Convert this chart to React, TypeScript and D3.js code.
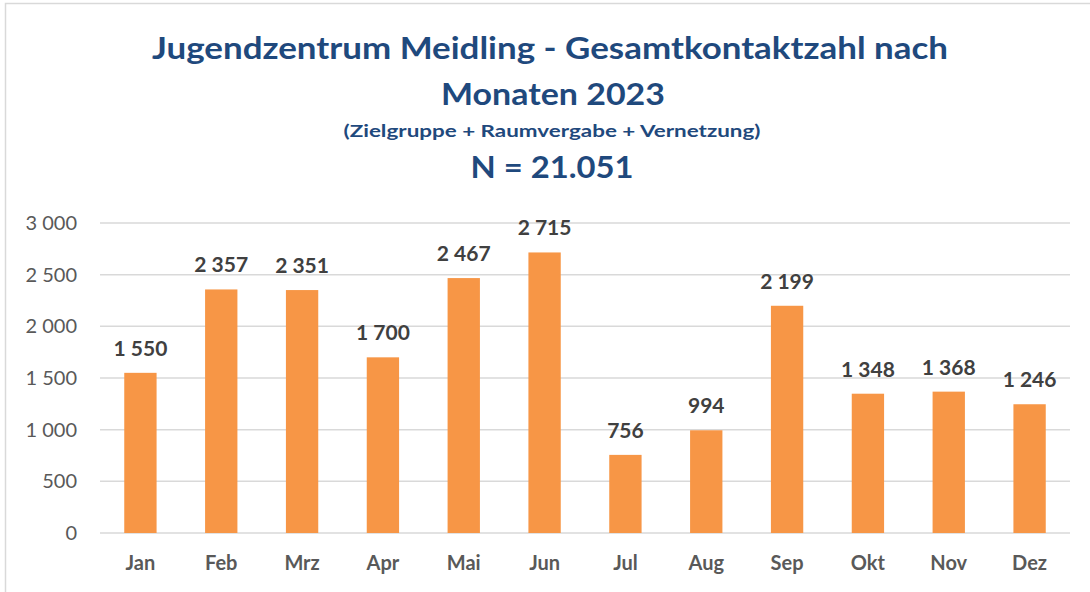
import React from "react";
import * as d3 from "d3";

const months = ["Jan", "Feb", "Mrz", "Apr", "Mai", "Jun", "Jul", "Aug", "Sep", "Okt", "Nov", "Dez"];
const contacts = [1550, 2357, 2351, 1700, 2467, 2715, 756, 994, 2199, 1348, 1368, 1246];
const yTicks = [0, 500, 1000, 1500, 2000, 2500, 3000];
const titleLines = ["Jugendzentrum Meidling - Gesamtkontaktzahl nach", "Monaten 2023"];
const subtitle = "(Zielgruppe + Raumvergabe + Vernetzung)";
const totalLabel = "N = 21.051";

const W = 1090;
const H = 592;
const FONT = "Lato, 'Open Sans', sans-serif";

const locale = d3.formatLocale({ decimal: ",", thousands: " ", grouping: [3], currency: ["", ""] });
const fmt = locale.format(",d");

export default function App() {
  const x = d3.scaleBand<string>().domain(months).range([100, 1070]).paddingInner(0.6).paddingOuter(0.3);
  const y = d3.scaleLinear().domain([0, 3000]).range([533, 223]);

  return (
    <svg width={W} height={H} style={{ position: "absolute", left: 0, top: 0, background: "#fff" }}>
      <rect x={5.5} y={3.5} width={W + 10} height={H + 10} fill="#fff" stroke="#d9d9d9" strokeWidth={1.5} />
      <g fill="#1f497d" fontFamily={FONT} fontWeight="bold" textAnchor="middle">
        <text x={550} y={59} fontSize={31} textLength={796} lengthAdjust="spacingAndGlyphs">{titleLines[0]}</text>
        <text x={553} y={105} fontSize={31} textLength={224} lengthAdjust="spacingAndGlyphs">{titleLines[1]}</text>
        <text x={552} y={137} fontSize={17} textLength={417} lengthAdjust="spacingAndGlyphs">{subtitle}</text>
        <text x={552} y={178} fontSize={31} textLength={163} lengthAdjust="spacingAndGlyphs">{totalLabel}</text>
      </g>
      <g>
        {yTicks.map((t) => (
          <g key={t}>
            <line x1={100} x2={1070} y1={y(t)} y2={y(t)} stroke="#d9d9d9" strokeWidth={1.5} />
            <text x={77} y={y(t)} dy="0.35em" textAnchor="end" fontFamily={FONT} fontSize={20} fill="#595959">
              {fmt(t)}
            </text>
          </g>
        ))}
      </g>
      <g>
        {months.map((m, i) => (
          <g key={m}>
            <rect x={x(m)} y={y(contacts[i])} width={x.bandwidth()} height={y(0) - y(contacts[i])} fill="#f79646" />
            <text
              x={(x(m) as number) + x.bandwidth() / 2}
              y={y(contacts[i]) - 17}
              textAnchor="middle"
              fontFamily={FONT}
              fontWeight="bold"
              fontSize={21}
              fill="#404040"
            >
              {fmt(contacts[i])}
            </text>
            <text
              x={(x(m) as number) + x.bandwidth() / 2}
              y={570}
              textAnchor="middle"
              fontFamily={FONT}
              fontWeight="bold"
              fontSize={20}
              fill="#595959"
            >
              {m}
            </text>
          </g>
        ))}
      </g>
    </svg>
  );
}
